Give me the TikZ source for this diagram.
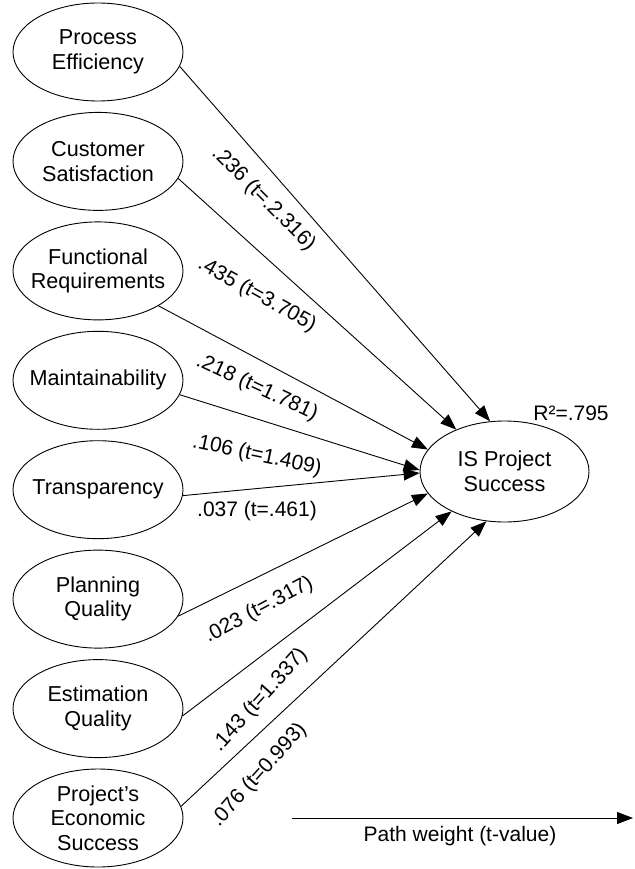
\documentclass[tikz,border=0pt]{standalone}
\usepackage{fontspec}
\setmainfont{Liberation Sans}
\usetikzlibrary{arrows.meta,shapes.geometric}
\begin{document}
\begin{tikzpicture}[x=1pt,y=-1pt,
  every node/.style={font=\fontsize{21}{24}\selectfont},
  latent/.style={draw, line width=0.9pt, ellipse, inner xsep=-40pt, inner ysep=0pt,
    minimum width=170pt, minimum height=98pt, align=center, font=\fontsize{21.6}{24.5}\selectfont},
  outcome/.style={latent, minimum width=169pt, minimum height=101pt},
  conn/.style={line width=0.9pt, -{Triangle[length=16pt,width=12pt]}},
  lbl/.style={inner sep=0pt}
]
\useasboundingbox (0,0) rectangle (634,869);

% latent constructs
\node[latent] (pe) at (98,52)    {Process\\Efficiency};
\node[latent] (cs) at (98,161.4) {Customer\\Satisfaction};
\node[latent] (fr) at (98,270.9) {Functional\\Requirements};
\node[latent] (ma) at (98,380.3) {Maintainability};
\node[latent] (tr) at (98,489.7) {Transparency};
\node[latent] (pq) at (98,599.1) {Planning\\Quality};
\node[latent] (eq) at (98,708.6) {Estimation\\Quality};
\node[latent] (ps) at (98,818)   {Project’s\\Economic\\Success};

\node[outcome] (isp) at (504.5,471.5) {IS Project\\Success};
\node (r2) at (571,413) {R²=.795};

% paths
\draw[conn] (pe.-10)   -- (isp.106);
\draw[conn] (cs.-12.8) -- (isp.139);
\draw[conn] (fr.-30)   -- (isp.164);
\draw[conn] (ma.-10.2) -- (isp.179);
\draw[conn] (tr.-4.3)  -- (isp.181);
\draw[conn] (pq.-12)   -- (isp.196);
\draw[conn] (eq.-5.1)  -- (isp.217);
\draw[conn] (ps.8.3)   -- (isp.250);

% path weights
\node[lbl, rotate=-45] (w1) at (263.5,199) {.236 (t=.2.316)};
\node[lbl, rotate=-29] (w2) at (257,295)   {.435 (t=3.705)};
\node[lbl, rotate=-25] (w3) at (257,388)   {.218 (t=1.781)};
\node[lbl, rotate=-12] (w4) at (257,455.5) {.106 (t=1.409)};
\node[lbl]             (w5) at (257,511)   {.037 (t=.461)};
\node[lbl, rotate=28]  (w6) at (259,610)   {.023 (t=.317)};
\node[lbl, rotate=48]  (w7) at (260,700)   {.143 (t=1.337)};
\node[lbl, rotate=48]  (w8) at (259,775)   {.076 (t=0.993)};

% legend
\coordinate (lgA) at (292,818);
\coordinate (lgB) at (633,818);
\draw[conn] (lgA) -- (lgB);
\node (lgT) at (460,836) {Path weight (t-value)};
\end{tikzpicture}
\end{document}
